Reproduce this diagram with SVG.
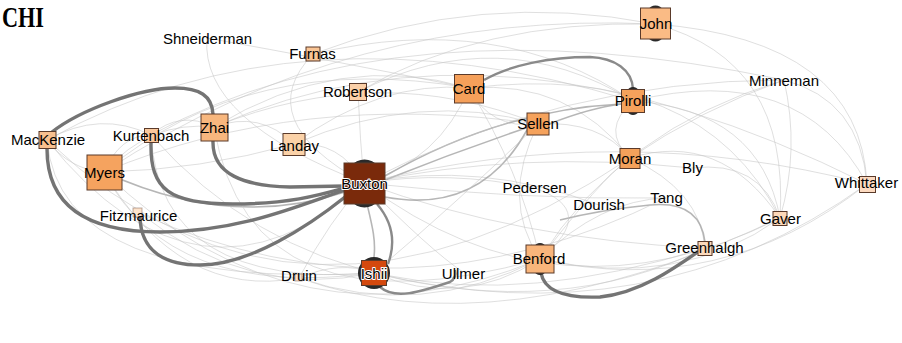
<svg xmlns="http://www.w3.org/2000/svg" width="902" height="343" viewBox="0 0 902 343">
<style>
.e{fill:none;stroke:#c4c4c4;stroke-width:1;opacity:0.55}
.m{fill:none;stroke:#a4a4a4;stroke-width:1.6;opacity:0.8}
.t{fill:none;stroke:#747474;stroke-width:3.4}
.t2{fill:none;stroke:#8a8a8a;stroke-width:2.4}
.n{stroke:#5a3a2a;stroke-width:1}
.cap{fill:#2a2a2a}
.l{font-family:"Liberation Sans",Arial,sans-serif;font-size:15px;fill:#000;text-anchor:middle}
.h{fill:#000;stroke:#fff;stroke-width:2;paint-order:stroke;stroke-linejoin:round}
</style>
<rect width="902" height="343" fill="#fff"/>
<text x="2" y="27" font-family="'Liberation Serif',serif" font-weight="bold" font-size="29" textLength="42" lengthAdjust="spacingAndGlyphs">CHI</text>
<g id="connectors">
<path class="e" d="M313,54 Q480,-10 655,24"/>
<path class="e" d="M313,54 Q500,10 633,101"/>
<path class="e" d="M358,92 Q500,20 633,101"/>
<path class="e" d="M358,92 Q480,20 655,24"/>
<path class="e" d="M207,38 Q200,120 364,183"/>
<path class="e" d="M207,38 Q330,60 469,88"/>
<path class="e" d="M469,88 Q440,160 364,183"/>
<path class="e" d="M469,88 Q490,130 538,124"/>
<path class="e" d="M469,88 Q570,80 630,158"/>
<path class="e" d="M469,88 Q250,50 104,172"/>
<path class="e" d="M469,88 Q380,80 294,144"/>
<path class="e" d="M469,88 Q520,170 540,259"/>
<path class="e" d="M469,88 Q700,60 780,218"/>
<path class="e" d="M633,101 Q760,110 780,218"/>
<path class="e" d="M633,101 Q800,60 867,184"/>
<path class="e" d="M655,24 Q790,60 780,218"/>
<path class="e" d="M655,24 Q860,40 867,184"/>
<path class="e" d="M784,80 Q800,150 780,218"/>
<path class="e" d="M784,80 Q860,100 867,184"/>
<path class="e" d="M784,80 Q700,110 630,158"/>
<path class="e" d="M784,80 Q620,130 540,259"/>
<path class="e" d="M630,158 Q720,130 780,218"/>
<path class="e" d="M630,158 Q700,190 705,248"/>
<path class="e" d="M692,168 Q760,160 780,218"/>
<path class="e" d="M666,198 Q600,200 540,259"/>
<path class="m" d="M705,242 Q700,200 650,205 Q600,210 560,220"/>
<path class="e" d="M780,218 Q680,290 540,259"/>
<path class="e" d="M780,218 Q560,330 364,183"/>
<path class="e" d="M705,248 Q520,240 364,183"/>
<path class="e" d="M599,205 Q480,160 364,183"/>
<path class="e" d="M534,188 Q450,170 364,183"/>
<path class="e" d="M534,188 Q600,210 540,259"/>
<path class="m" d="M538,124 Q460,150 385,180"/>
<path class="m" d="M527,130 Q480,215 385,197"/>
<path class="m" d="M549,124 Q590,108 621,104"/>
<path class="e" d="M538,124 Q600,120 630,158"/>
<path class="e" d="M538,124 Q500,200 540,259"/>
<path class="e" d="M538,124 Q300,90 104,172"/>
<path class="m" d="M621,104 Q500,110 385,176"/>
<path class="e" d="M633,101 Q600,130 630,158"/>
<path class="e" d="M294,144 Q340,140 364,183"/>
<path class="e" d="M294,144 Q200,170 104,172"/>
<path class="e" d="M294,144 Q420,90 538,124"/>
<path class="m" d="M104,172 Q230,230 345,192"/>
<path class="e" d="M104,172 Q170,300 374,273"/>
<path class="e" d="M104,172 Q120,135 151,135"/>
<path class="e" d="M104,172 Q150,120 214,127"/>
<path class="e" d="M104,172 Q180,300 299,278"/>
<path class="e" d="M47,140 Q60,290 374,273"/>
<path class="e" d="M47,140 Q70,170 104,172"/>
<path class="e" d="M47,140 Q100,110 151,135"/>
<path class="e" d="M151,135 Q180,110 214,127"/>
<path class="e" d="M151,135 Q160,290 374,273"/>
<path class="e" d="M214,127 Q260,110 294,144"/>
<path class="e" d="M214,127 Q340,50 469,88"/>
<path class="e" d="M214,127 Q380,60 538,124"/>
<path class="e" d="M141,214 Q250,300 374,273"/>
<path class="e" d="M299,278 Q330,220 364,183"/>
<path class="e" d="M299,278 Q340,260 374,273"/>
<path class="e" d="M299,278 Q420,320 540,259"/>
<path class="e" d="M374,273 Q460,310 540,259"/>
<path class="e" d="M374,273 Q460,200 538,124"/>
<path class="e" d="M374,273 Q560,320 705,248"/>
<path class="e" d="M374,273 Q650,340 867,184"/>
<path class="e" d="M463,272 Q430,250 364,183"/>
<path class="e" d="M540,259 Q720,300 867,184"/>
<path class="e" d="M540,259 Q600,180 630,158"/>
<path class="e" d="M364,183 Q620,120 867,184"/>
<path class="e" d="M364,183 Q560,80 784,80"/>
<path class="e" d="M364,183 Q520,150 692,168"/>
<path class="e" d="M364,183 Q520,200 666,198"/>
<path class="e" d="M364,183 Q200,330 47,140"/>
<path class="e" d="M104,172 Q300,360 540,259"/>
<path class="e" d="M151,135 Q350,360 705,248"/>
<path class="e" d="M214,127 Q250,340 540,259"/>
<path class="e" d="M47,140 Q300,380 630,158"/>
<path class="e" d="M47,140 Q300,0 633,101"/>
<path class="e" d="M104,172 Q350,10 655,24"/>
<path class="e" d="M151,135 Q400,0 784,80"/>
<path class="e" d="M214,127 Q500,0 867,184"/>
<path class="e" d="M313,54 Q250,120 364,183"/>
<path class="e" d="M358,92 Q360,140 364,183"/>
<path class="e" d="M299,278 Q500,350 780,218"/>
<path class="e" d="M141,214 Q400,330 666,198"/>
<path class="t" d="M47,149 C47,215 100,232 160,232 C240,232 300,205 345,190"/>
<path class="t" d="M52,132 C80,110 140,88 175,88 C200,88 212,96 213,114"/>
<path class="t" d="M151,143 C150,190 170,204 233,204 C290,204 320,195 345,188"/>
<path class="t" d="M213,141 C212,175 245,186 290,187 L345,186"/>
<path class="t" d="M140,215 C140,255 170,265 200,265 C250,265 310,225 345,197"/>
<path class="t" d="M541,273 C545,295 575,298 600,297 C640,293 675,268 702,249"/>
<path class="t2" d="M484,80 C510,65 550,57 590,57 C615,58 632,70 633,89"/>
<path class="t2" d="M377,204 C395,225 395,245 388,264"/>
<path class="m" d="M367,204 C372,225 376,240 374,257"/>
<path class="t2" d="M380,287 C395,300 420,292 450,282 C455,279 456,274 455,270"/>
</g>
<g id="node-buxton"><ellipse class="cap" cx="364.5" cy="183.5" rx="20" ry="24"/><rect class="n" x="344" y="163" width="41" height="41" fill="#7a2a0b"/><text class="l h" x="364.5" y="189">Buxton</text></g>
<g id="node-ishii"><circle class="cap" cx="374" cy="273" r="16"/><rect class="n" x="361.5" y="260.5" width="25" height="25" fill="#d4490e"/><text class="l h" x="374" y="278.5">Ishii</text></g>
<g id="node-myers"><rect class="n" x="87" y="155" width="35" height="35" fill="#f5a35f"/><text class="l" x="104.5" y="178">Myers</text></g>
<g id="node-mackenzie"><rect class="n" x="39" y="131.5" width="17" height="17" fill="#f8c08f"/><text class="l" x="48" y="145">MacKenzie</text></g>
<g id="node-kurtenbach"><rect class="n" x="144.5" y="128.5" width="14" height="14" fill="#fac89c"/><text class="l" x="151" y="141">Kurtenbach</text></g>
<g id="node-zhai"><rect class="n" x="201" y="114" width="27" height="27" fill="#f8b77e"/><text class="l" x="214.5" y="133">Zhai</text></g>
<g id="node-landay"><rect class="n" x="283" y="133.5" width="22" height="22" fill="#fbd2a8"/><text class="l" x="294.5" y="151">Landay</text></g>
<g id="node-fitzmaurice"><rect class="n" x="133" y="208" width="9" height="9" fill="#fde3cc" stroke-opacity="0.4"/><text class="l" x="138.5" y="221">Fitzmaurice</text></g>
<g id="node-druin"><rect class="n" x="295" y="274" width="7" height="7" fill="#fde3cc" stroke-opacity="0.4"/><text class="l" x="299" y="281">Druin</text></g>
<g id="node-ullmer"><text class="l" x="463.5" y="279">Ullmer</text></g>
<g id="node-benford"><ellipse class="cap" cx="540" cy="259" rx="10" ry="16"/><rect class="n" x="526" y="245" width="28" height="28" fill="#f9b57b"/><text class="l" x="539" y="264">Benford</text></g>
<g id="node-greenhalgh"><rect class="n" x="698" y="241.5" width="14" height="14" fill="#fcd9bb"/><text class="l" x="704.5" y="253">Greenhalgh</text></g>
<g id="node-gaver"><rect class="n" x="773" y="211.5" width="14" height="14" fill="#fcd8b9"/><text class="l" x="780.5" y="224">Gaver</text></g>
<g id="node-whittaker"><rect class="n" x="859.5" y="176.5" width="16" height="16" fill="#fcdac0"/><text class="l" x="866.5" y="188">Whittaker</text></g>
<g id="node-moran"><rect class="n" x="620" y="148.5" width="20" height="20" fill="#f4a15b"/><text class="l" x="630" y="164">Moran</text></g>
<g id="node-bly"><text class="l" x="692.5" y="173">Bly</text></g>
<g id="node-tang"><text class="l" x="666.5" y="203">Tang</text></g>
<g id="node-dourish"><text class="l" x="599" y="210">Dourish</text></g>
<g id="node-pedersen"><text class="l" x="534.5" y="193">Pedersen</text></g>
<g id="node-sellen"><rect class="n" x="527" y="113" width="22" height="22" fill="#f5a25c"/><text class="l" x="538" y="129">Sellen</text></g>
<g id="node-pirolli"><ellipse class="cap" cx="633" cy="101" rx="9" ry="14"/><rect class="n" x="621.5" y="89.5" width="23" height="23" fill="#f5a25c"/><text class="l" x="633" y="106">Pirolli</text></g>
<g id="node-john"><ellipse class="cap" cx="655.5" cy="23.5" rx="12" ry="18"/><rect class="n" x="640.5" y="8" width="30" height="31" fill="#fabb85"/><text class="l" x="656" y="29">John</text></g>
<g id="node-minneman"><text class="l" x="784" y="86">Minneman</text></g>
<g id="node-card"><rect class="n" x="454.5" y="74.5" width="29" height="28.5" fill="#f5a05a"/><text class="l" x="469" y="94">Card</text></g>
<g id="node-robertson"><rect class="n" x="349.5" y="83.5" width="17" height="17" fill="#fbd0a8"/><text class="l" x="357.5" y="97">Robertson</text></g>
<g id="node-furnas"><rect class="n" x="306" y="47" width="14" height="14" fill="#fac595"/><text class="l" x="312.5" y="59">Furnas</text></g>
<g id="node-shneiderman"><text class="l" x="207.5" y="44">Shneiderman</text></g>
</svg>
